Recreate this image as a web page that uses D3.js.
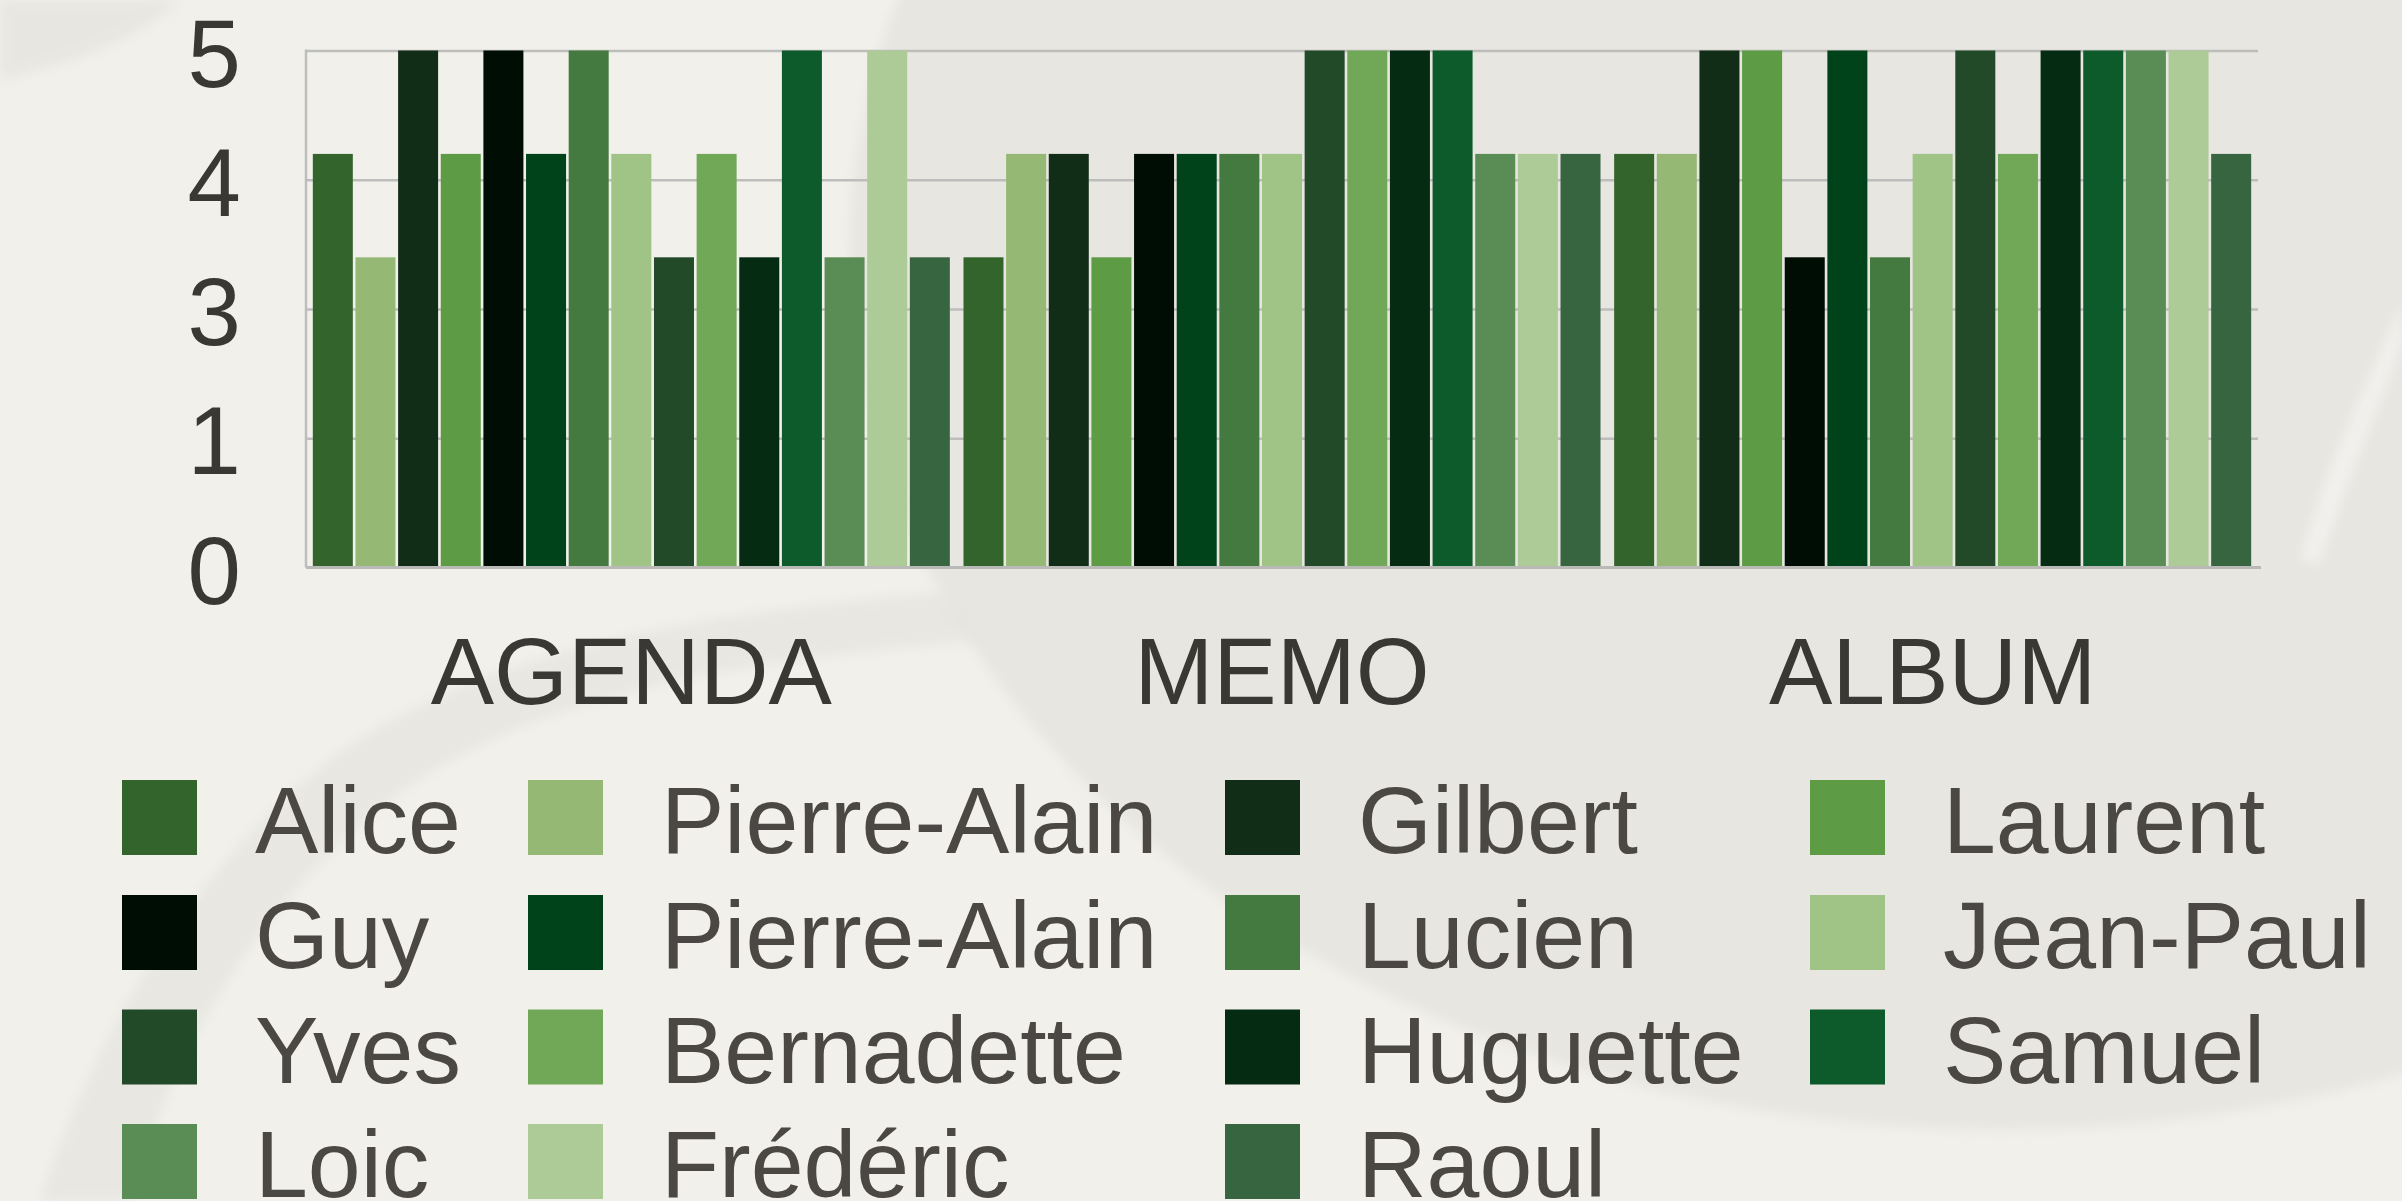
<!DOCTYPE html>
<html>
<head>
<meta charset="utf-8">
<script src="https://cdn.jsdelivr.net/npm/d3@7"></script>
<style>
  html, body { margin: 0; padding: 0; overflow: hidden; background: #f1f0eb; }
  svg { display: block; }
  text { font-family: "Liberation Sans", Arial, Helvetica, sans-serif; }
</style>
</head>
<body>
<svg id="chart" width="2402" height="1201"></svg>
<script>
// ---- data ----
const categories = ["AGENDA", "MEMO", "ALBUM"];
const seriesNames = ["Alice", "Pierre-Alain", "Gilbert", "Laurent", "Guy", "Pierre-Alain",
  "Lucien", "Jean-Paul", "Yves", "Bernadette", "Huguette", "Samuel", "Loic", "Frédéric", "Raoul"];
const seriesColors = ["#33642c", "#95b975", "#122d17", "#5e9b45", "#000d04", "#00431a",
  "#447a3f", "#a0c386", "#224a29", "#70a857", "#062b13", "#0d5b2a", "#5a8d55", "#adcb96", "#376540"];
const agendaValues = [4, 3, 5, 4, 5, 4, 5, 4, 3, 4, 3, 5, 3, 5, 3];
const memoValues   = [3, 4, 4, 3, 4, 4, 4, 4, 5, 5, 5, 5, 4, 4, 4];
const albumValues  = [4, 4, 5, 5, 3, 5, 3, 4, 5, 4, 5, 5, 5, 5, 4];
const yTickValues = [0, 1.25, 2.5, 3.75, 5];
const yTickLabels = ["0", "1", "3", "4", "5"];

const valuesByCategory = [agendaValues, memoValues, albumValues];
const table = categories.map((c, ci) => ({
  category: c,
  values: seriesNames.map((n, si) => ({ si, name: n, value: valuesByCategory[ci][si] }))
}));

// ---- layout ----
const W = 2402, H = 1201;
const plot = { left: 306, right: 2258, top: 50.5, bottom: 567.5 };
const svg = d3.select("#chart");

// background decoration
const defs = svg.append("defs");
defs.append("filter").attr("id", "soft").append("feGaussianBlur").attr("stdDeviation", 6);
const bg = svg.append("g");
bg.append("rect").attr("width", W).attr("height", H).attr("fill", "#f1f0eb");
bg.append("ellipse").attr("cx", 2000).attr("cy", 250).attr("rx", 1150).attr("ry", 880)
  .attr("fill", "#e7e6e1").attr("filter", "url(#soft)");
bg.append("path")
  .attr("d", "M40,1201 C90,1050 180,880 330,760 C480,650 700,610 980,590 L990,640 C720,660 520,700 390,800 C250,910 170,1060 130,1201 Z")
  .attr("fill", "#e6e5e0").attr("opacity", 0.8).attr("filter", "url(#soft)");
bg.append("path")
  .attr("d", "M0,0 L180,0 C150,30 90,60 0,80 Z")
  .attr("fill", "#e4e3de").attr("opacity", 0.7).attr("filter", "url(#soft)");
bg.append("path")
  .attr("d", "M2402,300 C2370,380 2330,450 2300,560 L2320,565 C2350,470 2385,400 2402,340 Z")
  .attr("fill", "#f3f2ee").attr("opacity", 0.9).attr("filter", "url(#soft)");

// scales
const x0 = d3.scaleBand().domain(categories).range([plot.left, plot.right]).paddingInner(0).paddingOuter(0);
const x1 = d3.scaleBand().domain(d3.range(seriesNames.length)).range([0, x0.bandwidth()])
  .paddingInner(0.062).paddingOuter(0.16);
const y = d3.scaleLinear().domain([0, 5]).range([plot.bottom, plot.top]);

// gridlines
const grid = svg.append("g").attr("transform", `translate(${plot.left},0)`)
  .call(d3.axisLeft(y).tickValues(yTickValues.slice(1)).tickSize(-(plot.right - plot.left)).tickFormat(""));
grid.select(".domain").remove();
grid.selectAll(".tick line").attr("stroke", "#bdbdbb").attr("stroke-width", 2.5);

// bars
const groups = svg.append("g").selectAll("g").data(table).join("g")
  .attr("transform", d => `translate(${x0(d.category)},0)`);
groups.selectAll("rect").data(d => d.values).join("rect")
  .attr("x", d => x1(d.si))
  .attr("width", x1.bandwidth())
  .attr("y", d => y(d.value))
  .attr("height", d => y(0) - y(d.value))
  .attr("fill", d => seriesColors[d.si]);

// axis lines
svg.append("line").attr("x1", plot.left).attr("x2", plot.left).attr("y1", plot.top - 1).attr("y2", plot.bottom)
  .attr("stroke", "#bdbdbb").attr("stroke-width", 2.5);
svg.append("line").attr("x1", plot.left).attr("x2", plot.right + 3).attr("y1", plot.bottom).attr("y2", plot.bottom)
  .attr("stroke", "#b9b9b7").attr("stroke-width", 3);

// y axis labels
const yAxis = svg.append("g").attr("transform", `translate(${plot.left},0)`)
  .call(d3.axisLeft(y).tickValues(yTickValues).tickSize(0).tickPadding(65)
    .tickFormat((d, i) => yTickLabels[i]));
yAxis.select(".domain").remove();
yAxis.selectAll("text")
  .attr("font-size", 96).attr("fill", "#3a3834")
  .attr("font-family", "'Liberation Sans', Arial, sans-serif")
  .attr("dy", "0.37em");

// category labels
const xAxis = svg.append("g").attr("transform", `translate(0,${plot.bottom})`)
  .call(d3.axisBottom(x0).tickSize(0));
xAxis.select(".domain").remove();
xAxis.selectAll("text")
  .attr("font-size", 95).attr("fill", "#3a3834")
  .attr("font-family", "'Liberation Sans', Arial, sans-serif")
  .attr("y", 704 - plot.bottom).attr("dy", 0);

// legend
const legendColX = [122, 528, 1225, 1810];
const legendRowY = [780, 895, 1009.5, 1124];
const legend = svg.append("g").selectAll("g").data(seriesNames).join("g")
  .attr("transform", (d, i) => `translate(${legendColX[i % 4]},${legendRowY[Math.floor(i / 4)]})`);
legend.append("rect").attr("width", 75).attr("height", 75).attr("fill", (d, i) => seriesColors[i]);
legend.append("text").attr("x", 133).attr("y", 73).attr("font-size", 95).attr("fill", "#4a4744")
  .text(d => d);
</script>
</body>
</html>
